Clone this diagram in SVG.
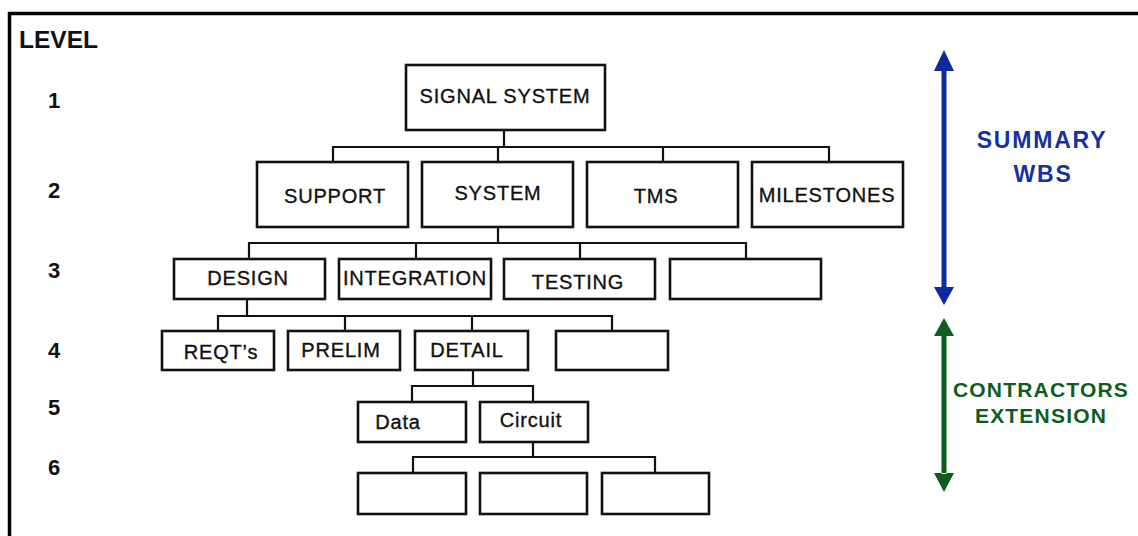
<svg xmlns="http://www.w3.org/2000/svg" width="1138" height="536" viewBox="0 0 1138 536">
<style>
.box{fill:#fff;stroke:#111;stroke-width:2.6}
.t{font-family:"Liberation Sans",Arial,sans-serif;font-size:20px;fill:#111;stroke:#111;stroke-width:0.35;text-anchor:middle;letter-spacing:0.8px}
.lv{font-family:"Liberation Sans",Arial,sans-serif;font-size:22px;font-weight:bold;fill:#111;text-anchor:middle}
.conn{fill:none;stroke:#111;stroke-width:2.2}
.blue{font-family:"Liberation Sans",Arial,sans-serif;font-size:23px;font-weight:bold;fill:#1432a0;text-anchor:middle;letter-spacing:1.8px}
.green{font-family:"Liberation Sans",Arial,sans-serif;font-size:21px;font-weight:bold;fill:#0d5e1e;text-anchor:middle;letter-spacing:1.2px}
</style>
<rect width="1138" height="536" fill="#fff"/>
<path d="M9.5,536 V13.5 H1138" fill="none" stroke="#000" stroke-width="3.5"/>
<g id="levels">
<text x="19" y="48" font-family="Liberation Sans,Arial,sans-serif" font-size="24.5" font-weight="bold" fill="#111">LEVEL</text>
<text class="lv" x="54" y="108">1</text>
<text class="lv" x="54" y="198">2</text>
<text class="lv" x="54" y="278">3</text>
<text class="lv" x="54" y="358">4</text>
<text class="lv" x="54" y="415">5</text>
<text class="lv" x="54" y="475">6</text>
</g>
<g id="connectors">
<path class="conn" d="M504,130 V147 M333,162 V147 H829 V162 M498,147 V162 M663,147 V162"/>
<path class="conn" d="M498,227 V243 M249,259 V243 H746 V259 M416,243 V259 M580,243 V259"/>
<path class="conn" d="M247,299 V316 M218,331 V316 H612 V331 M345,316 V331 M472,316 V331"/>
<path class="conn" d="M473,370 V386 M412,402 V386 H533 V402"/>
<path class="conn" d="M533,442 V457 M413,473 V457 H655 V473"/>
</g>
<g id="n-signal"><rect class="box" x="406" y="65" width="199" height="65"/><text class="t" x="505" y="103">SIGNAL SYSTEM</text></g>
<g id="n-support"><rect class="box" x="257" y="162" width="151" height="65"/><text class="t" x="335" y="203">SUPPORT</text></g>
<g id="n-system"><rect class="box" x="422" y="162" width="151" height="65"/><text class="t" x="498" y="200">SYSTEM</text></g>
<g id="n-tms"><rect class="box" x="587" y="162" width="151" height="65"/><text class="t" x="656" y="203">TMS</text></g>
<g id="n-milestones"><rect class="box" x="752" y="162" width="151" height="65"/><text class="t" x="827" y="202">MILESTONES</text></g>
<g id="n-design"><rect class="box" x="174" y="259" width="151" height="40"/><text class="t" x="248" y="285">DESIGN</text></g>
<g id="n-integration"><rect class="box" x="339" y="259" width="152" height="40"/><text class="t" x="415" y="285">INTEGRATION</text></g>
<g id="n-testing"><rect class="box" x="504" y="259" width="151" height="40"/><text class="t" x="578" y="289">TESTING</text></g>
<g id="n-blank3"><rect class="box" x="670" y="259" width="151" height="40"/></g>
<g id="n-reqts"><rect class="box" x="162" y="331" width="112" height="39"/><text class="t" x="221" y="359">REQT’s</text></g>
<g id="n-prelim"><rect class="box" x="288" y="331" width="112" height="39"/><text class="t" x="341" y="357">PRELIM</text></g>
<g id="n-detail"><rect class="box" x="415" y="331" width="113" height="39"/><text class="t" x="467" y="357">DETAIL</text></g>
<g id="n-blank4"><rect class="box" x="556" y="331" width="112" height="39"/></g>
<g id="n-data"><rect class="box" x="358" y="402" width="108" height="40"/><text class="t" x="398" y="429">Data</text></g>
<g id="n-circuit"><rect class="box" x="480" y="402" width="108" height="40"/><text class="t" x="531" y="427">Circuit</text></g>
<g id="n-blank6a"><rect class="box" x="358" y="473" width="108" height="41"/></g>
<g id="n-blank6b"><rect class="box" x="480" y="473" width="107" height="41"/></g>
<g id="n-blank6c"><rect class="box" x="602" y="473" width="107" height="41"/></g>
<g id="summary">
<path d="M941.5,70 H946.5 V287 H941.5 Z M944,50 L954,71 H934 Z M944,305 L954,287 H934 Z" fill="#0b2a9e"/>
<text class="blue" x="1042" y="148">SUMMARY</text>
<text class="blue" x="1043" y="182">WBS</text>
</g>
<g id="extension">
<path d="M941.5,335 H946.5 V474 H941.5 Z M944,318 L954,336 H934 Z M944,492 L954,473 H934 Z" fill="#0d5e1e"/>
<text class="green" x="1041" y="397">CONTRACTORS</text>
<text class="green" x="1041" y="423">EXTENSION</text>
</g>
</svg>
